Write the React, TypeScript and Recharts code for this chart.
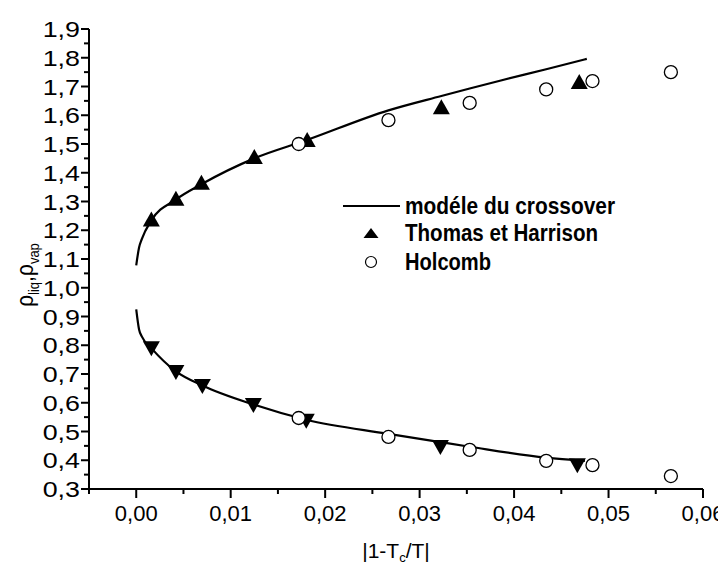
import React from 'react';
import { ComposedChart, Line, Scatter, XAxis, YAxis } from 'recharts';

const FONT = 'Arial, "Liberation Sans", Helvetica, sans-serif';

// axis ticks
const xMajorTicks = [0, 0.01, 0.02, 0.03, 0.04, 0.05, 0.06];
const xMinorTicks = [-0.005, 0.005, 0.015, 0.025, 0.035, 0.045, 0.055];
const xTickLabels = ['0,00', '0,01', '0,02', '0,03', '0,04', '0,05', '0,06'];
const yMajorTicks = [0.3, 0.4, 0.5, 0.6, 0.7, 0.8, 0.9, 1.0, 1.1, 1.2, 1.3, 1.4, 1.5, 1.6, 1.7, 1.8, 1.9];
const yMinorTicks = [0.35, 0.45, 0.55, 0.65, 0.75, 0.85, 0.95, 1.05, 1.15, 1.25, 1.35, 1.45, 1.55, 1.65, 1.75, 1.85];
const yTickLabels = ['0,3', '0,4', '0,5', '0,6', '0,7', '0,8', '0,9', '1,0', '1,1', '1,2', '1,3', '1,4', '1,5', '1,6', '1,7', '1,8', '1,9'];

// crossover model curve (liquid / vapour branches)
const modelLiqX = [0, 0.0003, 0.0006, 0.0016, 0.0042, 0.0069, 0.0125, 0.018, 0.0267, 0.0323, 0.0353, 0.0385, 0.0434, 0.0477];
const modelLiqY = [1.078, 1.14, 1.17, 1.234, 1.307, 1.36, 1.45, 1.513, 1.617, 1.667, 1.693, 1.72, 1.76, 1.796];
const modelVapX = [0, 0.0003, 0.0006, 0.0016, 0.0042, 0.007, 0.0124, 0.018, 0.0267, 0.0322, 0.0353, 0.0434, 0.0475];
const modelVapY = [0.925, 0.855, 0.83, 0.79, 0.709, 0.66, 0.594, 0.541, 0.492, 0.463, 0.447, 0.409, 0.398];

// Thomas et Harrison
const thomasLiqX = [0.0016, 0.0042, 0.0069, 0.0125, 0.0181, 0.0323, 0.0469];
const thomasLiqY = [1.237, 1.31, 1.365, 1.455, 1.514, 1.628, 1.716];
const thomasVapX = [0.0016, 0.0042, 0.007, 0.0124, 0.018, 0.0322, 0.0467];
const thomasVapY = [0.79, 0.707, 0.658, 0.592, 0.537, 0.446, 0.383];

// Holcomb
const holcombX = [0.0172, 0.0267, 0.0353, 0.0434, 0.0483, 0.0566];
const holcombLiqY = [1.5, 1.583, 1.643, 1.69, 1.719, 1.75];
const holcombVapY = [0.547, 0.481, 0.436, 0.398, 0.383, 0.345];

const legendLabels = ['modéle du crossover', 'Thomas et Harrison', 'Holcomb'];

const zip = (xs: number[], ys: number[]) => xs.map((x, i) => ({ x, y: ys[i] }));
const modelLiq = zip(modelLiqX, modelLiqY);
const modelVap = zip(modelVapX, modelVapY);
const thomasLiq = zip(thomasLiqX, thomasLiqY);
const thomasVap = zip(thomasVapX, thomasVapY);
const holcombLiq = zip(holcombX, holcombLiqY);
const holcombVap = zip(holcombX, holcombVapY);

const allX = [...xMajorTicks, ...xMinorTicks].sort((a, b) => a - b);
const allY = [...yMajorTicks, ...yMinorTicks].sort((a, b) => a - b);
const idx = (arr: number[], v: number) => arr.findIndex((m) => Math.abs(m - v) < 1e-9);

const BottomTick = (p: any) => {
  const { x, y, payload } = p;
  const i = idx(xMajorTicks, payload.value);
  return (
    <g>
      <line x1={x} x2={x} y1={y} y2={y + (i >= 0 ? 9 : 5)} stroke="#000" strokeWidth={2} />
      {i >= 0 && (
        <text x={x} y={y + 32} textAnchor="middle" fontSize={22} fontFamily={FONT} fill="#000">
          {xTickLabels[i]}
        </text>
      )}
    </g>
  );
};
const TopTick = (p: any) => {
  const { x, y } = p;
  return <line x1={x} x2={x} y1={y} y2={y + 4} stroke="#000" strokeWidth={2} />;
};
const LeftTick = (p: any) => {
  const { x, y, payload } = p;
  const i = idx(yMajorTicks, payload.value);
  return (
    <g>
      <line x1={x - (i >= 0 ? 8 : 5)} x2={x} y1={y} y2={y} stroke="#000" strokeWidth={2} />
      {i >= 0 && (
        <text
          transform={`translate(${x - 9}, ${y + 8}) scale(1.22, 1)`}
          textAnchor="end"
          fontSize={22}
          fontFamily={FONT}
          fill="#000"
        >
          {yTickLabels[i]}
        </text>
      )}
    </g>
  );
};
const RightTick = (p: any) => {
  const { x, y } = p;
  return <line x1={x - 4} x2={x} y1={y} y2={y} stroke="#000" strokeWidth={2} />;
};

const TriUp = (p: any) => {
  const { cx, cy } = p;
  if (cx == null || cy == null) return null;
  return <polygon points={`${cx},${cy - 8} ${cx - 8.5},${cy + 7} ${cx + 8.5},${cy + 7}`} fill="#000" />;
};
const TriDown = (p: any) => {
  const { cx, cy } = p;
  if (cx == null || cy == null) return null;
  return <polygon points={`${cx},${cy + 8} ${cx - 8.5},${cy - 7} ${cx + 8.5},${cy - 7}`} fill="#000" />;
};
const OpenCircle = (p: any) => {
  const { cx, cy } = p;
  if (cx == null || cy == null) return null;
  return <circle cx={cx} cy={cy} r={6.5} fill="#fff" stroke="#000" strokeWidth={1.3} />;
};

const YTitle = () => (
  <text
    transform="translate(25, 267) scale(1.1, 1) rotate(-90)"
    textAnchor="middle"
    fontFamily={FONT}
    fill="#000"
    fontSize={21}
  >
    ρ<tspan fontSize={13} dy={5}>liq</tspan>
    <tspan dy={-5}>,</tspan>ρ<tspan fontSize={13} dy={5}>vap</tspan>
  </text>
);
const XTitle = () => (
  <text x={388} y={550} textAnchor="middle" fontFamily={FONT} fill="#000" fontSize={21}>
    |1-T<tspan fontSize={13} dy={4}>c</tspan>
    <tspan dy={-4}>/T|</tspan>
  </text>
);

const LegendBox = () => (
  <svg width={330} height={95} style={{ display: 'block' }}>
    <line x1={5} x2={62} y1={18} y2={18} stroke="#000" strokeWidth={2} />
    <polygon points="33,40 25.5,50 40.5,50" fill="#000" />
    <circle cx={33} cy={74} r={5.5} fill="#fff" stroke="#000" strokeWidth={1.2} />
    {legendLabels.map((t, i) => (
      <text
        key={t}
        x={67}
        y={[18, 45, 74][i] + 8}
        fontFamily={FONT}
        fontWeight="bold"
        fontSize={23}
        textLength={[210, 193, 86][i]}
        lengthAdjust="spacingAndGlyphs"
        fill="#000"
      >
        {t}
      </text>
    ))}
  </svg>
);

export default function App() {
  return (
    <div style={{ position: 'relative', width: 718, height: 557, fontFamily: FONT }}>
      <ComposedChart width={718} height={557} margin={{ top: 21, right: 23, bottom: 0, left: 0 }}>
        <XAxis
          dataKey="x"
          type="number"
          domain={[-0.005, 0.06]}
          ticks={allX}
          interval={0}
          tickSize={0}
          tickMargin={0}
          height={76}
          axisLine={{ stroke: '#000', strokeWidth: 2 }}
          tick={BottomTick}
          allowDataOverflow
          label={{ content: XTitle }}
        />
        <XAxis
          xAxisId="top"
          orientation="top"
          dataKey="x"
          type="number"
          domain={[-0.005, 0.06]}
          ticks={allX}
          interval={0}
          tickSize={0}
          tickMargin={0}
          height={0}
          axisLine={{ stroke: '#000', strokeWidth: 2 }}
          tick={TopTick}
          allowDataOverflow
        />
        <YAxis
          dataKey="y"
          type="number"
          domain={[0.3, 1.9]}
          ticks={allY}
          interval={0}
          tickSize={0}
          tickMargin={0}
          width={81}
          axisLine={{ stroke: '#000', strokeWidth: 2 }}
          tick={LeftTick}
          allowDataOverflow
          label={{ content: YTitle }}
        />
        <YAxis
          yAxisId="right"
          orientation="right"
          dataKey="y"
          type="number"
          domain={[0.3, 1.9]}
          ticks={allY}
          interval={0}
          tickSize={0}
          tickMargin={0}
          width={0}
          axisLine={{ stroke: '#000', strokeWidth: 2 }}
          tick={RightTick}
          allowDataOverflow
        />
        <Line data={modelLiq} dataKey="y" type="monotone" stroke="#000" strokeWidth={2.2} dot={false} isAnimationActive={false} />
        <Line data={modelVap} dataKey="y" type="monotone" stroke="#000" strokeWidth={2.2} dot={false} isAnimationActive={false} />
        <Scatter data={thomasLiq} dataKey="y" shape={TriUp} isAnimationActive={false} />
        <Scatter data={thomasVap} dataKey="y" shape={TriDown} isAnimationActive={false} />
        <Scatter data={holcombLiq} dataKey="y" shape={OpenCircle} isAnimationActive={false} />
        <Scatter data={holcombVap} dataKey="y" shape={OpenCircle} isAnimationActive={false} />
      </ComposedChart>
      <div style={{ position: 'absolute', left: 330, top: 180 }}>
        <LegendBox />
      </div>
    </div>
  );
}
